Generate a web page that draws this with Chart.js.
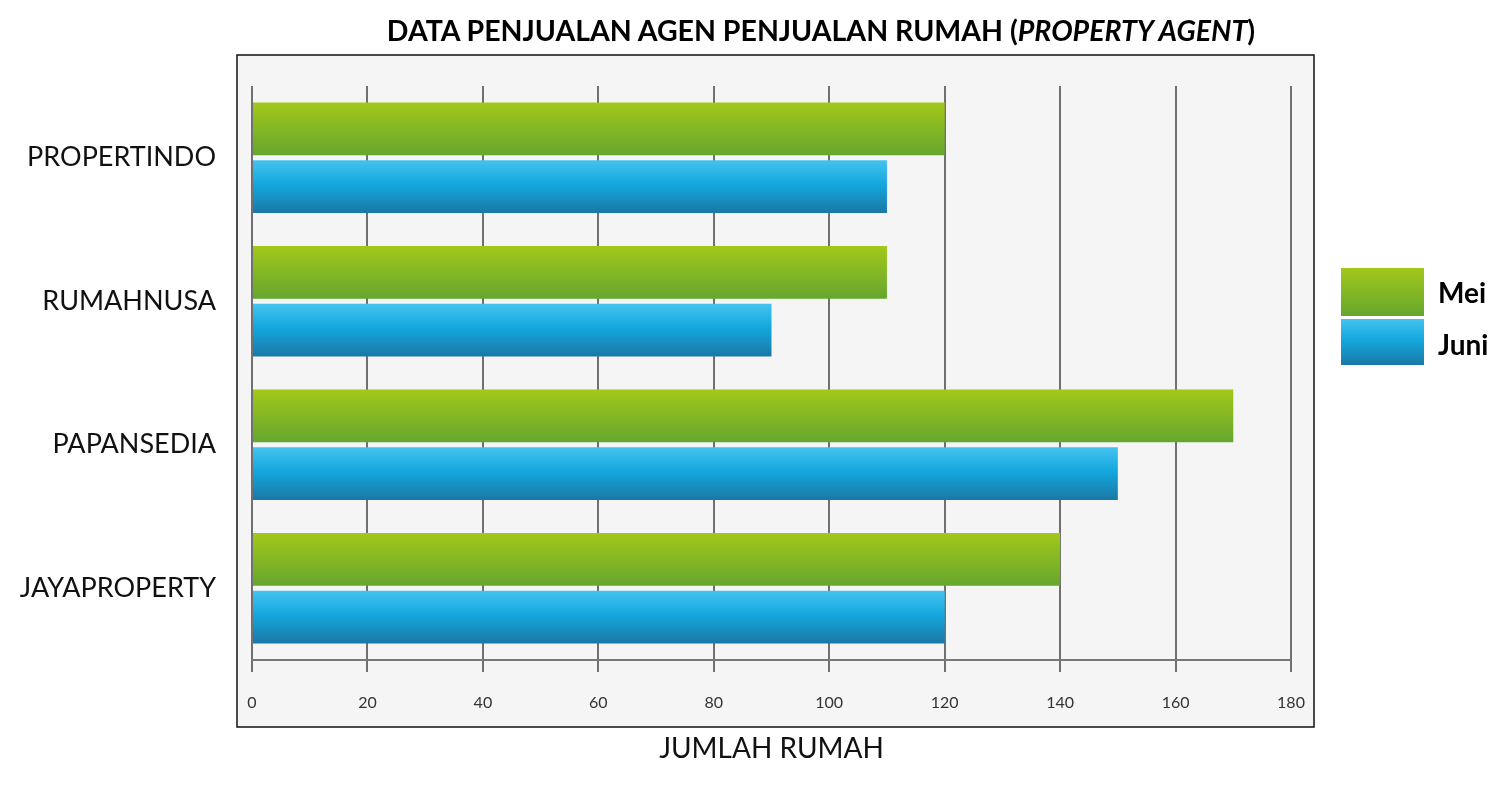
<!DOCTYPE html>
<html>
<head>
<meta charset="utf-8">
<script src="https://cdn.jsdelivr.net/npm/chart.js@4/dist/chart.umd.min.js"></script>
<style>
  html, body { margin: 0; padding: 0; background: #ffffff; }
  #wrap { position: relative; width: 1512px; height: 792px; overflow: hidden; }
  #c { position: absolute; left: 0; top: 0; }
  #title { position: absolute; left: 0; width: 1642px; top: 12px; text-align: center;
           font-family: Lato, "Open Sans", sans-serif; font-weight: 700; font-size: 28.5px; color: #000; line-height: 36px; }
  .leg { position: absolute; left: 1341px; width: 83px; }
  .legtxt { position: absolute; left: 1438px; font-family: Lato, "Open Sans", sans-serif; font-weight: 700; font-size: 28px; color: #000; line-height: 32px; }
</style>
</head>
<body>
<div id="wrap">
  <canvas id="c" width="1512" height="792"></canvas>
  <div id="title">DATA PENJUALAN AGEN PENJUALAN RUMAH (<i>PROPERTY AGENT</i>)</div>
  <div class="leg" style="top:268px;height:48px;background:linear-gradient(#a2c81a,#66a62e);"></div>
  <div class="leg" style="top:319px;height:46px;background:linear-gradient(#45c3ef 0%,#14a8de 45%,#1a78a6 100%);"></div>
  <div class="legtxt" style="top:276px;">Mei</div>
  <div class="legtxt" style="top:328px;">Juni</div>
</div>
<script>
const categories = ["PROPERTINDO", "RUMAHNUSA", "PAPANSEDIA", "JAYAPROPERTY"];
const seriesNames = ["Mei", "Juni"];
const meiValues = [120, 110, 170, 140];
const juniValues = [110, 90, 150, 120];
const xTicks = [0, 20, 40, 60, 80, 100, 120, 140, 160, 180];
const xTitle = "JUMLAH RUMAH";

const gradStops = [
  [[0, "#a2c81a"], [1, "#66a62e"]],
  [[0, "#45c3ef"], [0.45, "#14a8de"], [1, "#1a78a6"]]
];

const boxPlugin = {
  id: "box",
  beforeDraw(chart) {
    const ctx = chart.ctx;
    ctx.save();
    ctx.fillStyle = "#f5f5f5";
    ctx.fillRect(237, 55, 1077, 672);
    ctx.strokeStyle = "#111";
    ctx.lineWidth = 1.5;
    ctx.strokeRect(237, 55, 1077, 672);
    ctx.restore();
  },
  beforeDatasetsDraw(chart) {
    const ctx = chart.ctx;
    chart.data.datasets.forEach((ds, i) => {
      const meta = chart.getDatasetMeta(i);
      meta.data.forEach(el => {
        const top = el.y - el.height / 2, bot = el.y + el.height / 2;
        const g = ctx.createLinearGradient(0, top, 0, bot);
        gradStops[i].forEach(s => g.addColorStop(s[0], s[1]));
        el.options = Object.assign({}, el.options, { backgroundColor: g });
      });
    });
  }
};

new Chart(document.getElementById("c"), {
  type: "bar",
  data: {
    labels: categories,
    datasets: [
      { label: seriesNames[0], data: meiValues, backgroundColor: "#8cbc22", borderWidth: 0 },
      { label: seriesNames[1], data: juniValues, backgroundColor: "#14a8de", borderWidth: 0 }
    ]
  },
  options: {
    indexAxis: "y",
    responsive: false,
    animation: false,
    categoryPercentage: 0.805,
    barPercentage: 0.914,
    layout: { padding: { left: 0, right: 221, top: 86, bottom: 26 } },
    plugins: { legend: { display: false }, tooltip: { enabled: false }, title: { display: false } },
    scales: {
      x: {
        min: 0, max: 180,
        afterBuildTicks(s) { s.ticks = xTicks.map(v => ({ value: v })); },
        afterFit(s) { s.height = 106; },
        grid: { color: "#707070", lineWidth: 2, tickLength: 12, drawTicks: true },
        border: { display: true, color: "#777", width: 2 },
        ticks: { padding: 21, color: "#333", font: { family: "Lato, 'Open Sans', sans-serif", size: 16 } },
        title: { display: true, text: xTitle, color: "#111", padding: { top: 0, bottom: 0 },
                 font: { family: "Lato, 'Open Sans', sans-serif", size: 28 } }
      },
      y: {
        afterFit(s) { s.width = 252; },
        grid: { display: false },
        border: { display: false },
        ticks: { padding: 28, color: "#111", font: { family: "Lato, 'Open Sans', sans-serif", size: 27 } }
      }
    }
  },
  plugins: [boxPlugin]
});
</script>
</body>
</html>
